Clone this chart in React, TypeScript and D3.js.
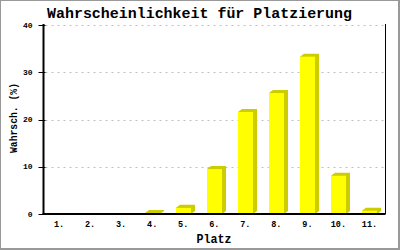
import React from "react";
import * as d3 from "d3";

const categories = ["1.", "2.", "3.", "4.", "5.", "6.", "7.", "8.", "9.", "10.", "11."];
const values = [0, 0, 0, 0.2, 1.3, 9.5, 21.6, 25.6, 33.3, 8.1, 0.7];
const yTicks = [0, 10, 20, 30, 40];

const W = 400;
const H = 250;
const left = 43.5;
const right = 385;
const top = 25;
const bottom = 214;
const DX = 4;
const DY = 3;
const MONO = "'Liberation Mono', 'DejaVu Sans Mono', monospace";

export default function App() {
  const x = d3.scaleBand<string>().domain(categories).range([left, right]).paddingInner(0.52).paddingOuter(0.26);
  const xc = d3.scaleBand<string>().domain(categories).range([left, right]);
  const y = d3.scaleLinear().domain([0, 40]).range([bottom, top]);
  const bw = x.bandwidth();

  return (
    <svg width={W} height={H} style={{ position: "fixed", left: 0, top: 0, background: "#fff" }}>
      <rect x={0} y={0} width={W} height={H} fill="#fff" />
      {yTicks.filter((t) => t > 0).map((t) => (
        <line key={"g" + t} x1={left + 2} x2={right} y1={Math.round(y(t)) + 0.5} y2={Math.round(y(t)) + 0.5}
          stroke="#c0c0c0" strokeWidth={1} strokeDasharray="2,4" />
      ))}
      {categories.map((c, i) => {
        const v = values[i];
        const x0 = Math.round(x(c)!);
        const yt = y(v);
        const w = Math.round(bw);
        const shadow = [
          [x0, yt],
          [x0 + DX, yt - DY],
          [x0 + w + DX, yt - DY],
          [x0 + w + DX, bottom - DY],
          [x0 + w, bottom],
          [x0, bottom],
        ];
        if (v <= 0) return null;
        return (
          <g key={c}>
            <polygon points={shadow.map((p) => p.join(",")).join(" ")} fill="#cccc00" />
            <rect x={x0} y={yt} width={w} height={bottom - yt} fill="#ffff00" />
          </g>
        );
      })}
      <line x1={left} x2={left} y1={top - 1} y2={bottom + 1} stroke="#000" strokeWidth={2} />
      <line x1={left - 1} x2={right + 0.5} y1={bottom} y2={bottom} stroke="#000" strokeWidth={2} />
      <line x1={right + 0.5} x2={right + 0.5} y1={top - 1} y2={bottom} stroke="#000" strokeWidth={1} />
      {yTicks.map((t) => (
        <g key={"t" + t}>
          <line x1={left - 5} x2={left + 2} y1={Math.round(y(t)) + 0.5} y2={Math.round(y(t)) + 0.5} stroke="#000" strokeWidth={1} />
          <text x={left - 11} y={y(t) + 2.5} textAnchor="end" fontFamily={MONO} fontSize={8} fontWeight="bold" fill="#000">{t}</text>
        </g>
      ))}
      {categories.map((c) => (
        <text key={"l" + c} x={xc(c)! + xc.bandwidth() / 2} y={227} textAnchor="middle" fontFamily={MONO} fontSize={8.5} fontWeight="bold" fill="#000">{c}</text>
      ))}
      <text x={199.5} y={18} textAnchor="middle" fontFamily={MONO} fontSize={15} fontWeight="bold" fill="#000"
        textLength={305} lengthAdjust="spacingAndGlyphs">Wahrscheinlichkeit für Platzierung</text>
      <text x={214} y={243} textAnchor="middle" fontFamily={MONO} fontSize={12.5} fontWeight="bold" fill="#000"
        textLength={35} lengthAdjust="spacingAndGlyphs">Platz</text>
      <text transform="translate(17,118) rotate(-90)" textAnchor="middle" fontFamily={MONO} fontSize={11} fontWeight="bold" fill="#000"
        textLength={70} lengthAdjust="spacingAndGlyphs">Wahrsch. (%)</text>
      <rect x={0.5} y={0.5} width={W - 1} height={H - 1} fill="none" stroke="#999" strokeWidth={1} />
      <line x1={W - 1.5} x2={W - 1.5} y1={0} y2={H} stroke="#999" strokeWidth={1} />
      <line x1={0} x2={W} y1={H - 1.5} y2={H - 1.5} stroke="#999" strokeWidth={1} />
    </svg>
  );
}
